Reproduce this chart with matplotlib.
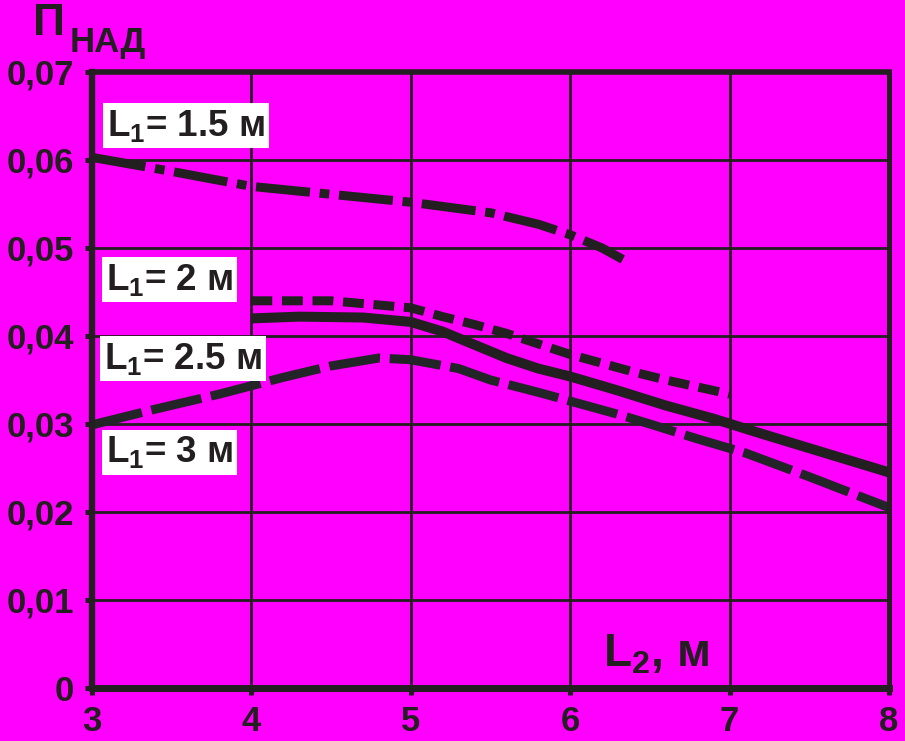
import matplotlib
matplotlib.use("Agg")
import matplotlib.pyplot as plt
from matplotlib.ticker import FixedLocator, FuncFormatter

plt.rcParams['font.family'] = ['Liberation Sans', 'DejaVu Sans']
plt.rcParams['mathtext.default'] = 'regular'
plt.rcParams['lines.scale_dashes'] = False

# ---- data ----
x_15 = [3.0, 3.5, 4.0, 4.5, 5.0, 5.5, 5.8, 6.0, 6.2, 6.33]
y_15 = [0.0603, 0.0587, 0.0570, 0.0561, 0.0552, 0.0540, 0.0527, 0.0515, 0.0500, 0.0487]

x_20 = [4.0, 4.5, 5.0, 5.2, 5.4, 5.6, 5.8, 6.0, 6.2, 6.4, 6.6, 6.8, 7.0]
y_20 = [0.0440, 0.0440, 0.0432, 0.0422, 0.0413, 0.0403, 0.0391, 0.0379, 0.0369, 0.0359, 0.0350, 0.0342, 0.0334]

x_25 = [4.0, 4.3, 4.7, 5.0, 5.2, 5.4, 5.6, 5.8, 6.0, 6.3, 6.6, 6.9, 7.2, 7.6, 8.0]
y_25 = [0.0420, 0.0422, 0.0421, 0.0416, 0.0405, 0.0390, 0.0375, 0.0363, 0.0354, 0.0338, 0.0321, 0.0306, 0.0289, 0.0267, 0.0245]

x_30 = [3.0, 3.4, 3.8, 4.2, 4.5, 4.8, 5.0, 5.3, 5.5, 5.8, 6.0, 6.3, 6.5, 6.8, 7.1, 7.5, 8.0]
y_30 = [0.0299, 0.0317, 0.0334, 0.0353, 0.0366, 0.0375, 0.0373, 0.0363, 0.0350, 0.0336, 0.0326, 0.0311, 0.0300, 0.0283, 0.0267, 0.0240, 0.0205]

x_ticks = [3, 4, 5, 6, 7, 8]
y_ticks = [0, 0.01, 0.02, 0.03, 0.04, 0.05, 0.06, 0.07]
series_labels = ['L$_1$= 1.5 м', 'L$_1$= 2 м', 'L$_1$= 2.5 м', 'L$_1$= 3 м']

BG = '#ff00ff'
INK = '#231f20'

W, H = 905, 741
fig = plt.figure(figsize=(W / 100, H / 100), dpi=100, facecolor=BG)
ax = fig.add_axes([92 / W, 53 / H, 797 / W, 616 / H], facecolor=BG)
ax.set_xlim(3, 8)
ax.set_ylim(0, 0.07)

ax.xaxis.set_major_locator(FixedLocator(x_ticks))
ax.yaxis.set_major_locator(FixedLocator(y_ticks))
ax.xaxis.set_major_formatter(FuncFormatter(lambda v, p: f"{v:g}"))
ax.yaxis.set_major_formatter(FuncFormatter(lambda v, p: "0" if v == 0 else f"{v:.2f}".replace('.', ',')))

ax.grid(True, color=INK, linewidth=2.0)
ax.set_axisbelow(True)

for side, lw in (('left', 4.6), ('top', 4.0), ('bottom', 5.0), ('right', 3.6)):
    ax.spines[side].set_linewidth(lw)
    ax.spines[side].set_color(INK)
    ax.spines[side].set_zorder(5)

ax.tick_params(axis='both', direction='out', length=5, width=3.6, color=INK,
               labelsize=25, labelcolor=INK)
ax.tick_params(axis='y', pad=8)
ax.tick_params(axis='x', pad=7)
for lab in ax.get_xticklabels() + ax.get_yticklabels():
    lab.set_fontweight('bold')

# ---- curves ----
ax.plot(x_15, y_15, color=INK, lw=6.5, linestyle=(0, (39, 7, 7, 7)),
        solid_capstyle='butt', zorder=3)
ax.plot(x_20, y_20, color=INK, lw=6.5, linestyle=(0, (15, 7)), zorder=3)
ax.plot(x_25, y_25, color=INK, lw=7.2, linestyle='-', solid_capstyle='butt', zorder=3)
ax.plot(x_30, y_30, color='#222428', lw=6.5, linestyle=(0, (37, 7)), zorder=3)

# ---- series labels in white boxes ----
label_pos = [(3.094, 0.0639), (3.088, 0.0464), (3.075, 0.0374), (3.088, 0.0268)]
for (lx, ly), txt in zip(label_pos, series_labels):
    ax.text(lx, ly, txt, fontsize=26.5, fontweight='bold', color=INK,
            ha='left', va='center', zorder=6,
            bbox=dict(boxstyle='square,pad=0.12', facecolor='white', edgecolor='none'))

# ---- axis titles ----
fig.text(33 / W, 1 - 35 / H, 'П', fontsize=32, fontweight='bold', color=INK,
         ha='left', va='baseline')
fig.text(70 / W, 1 - 52 / H, 'НАД', fontsize=25, fontweight='bold', color=INK,
         ha='left', va='baseline')
fig.text(603 / W, 1 - 667 / H, 'L$_2$, м', fontsize=33, fontweight='bold', color=INK,
         ha='left', va='baseline', zorder=6)

fig.savefig('out.png', dpi=100, facecolor=BG)
